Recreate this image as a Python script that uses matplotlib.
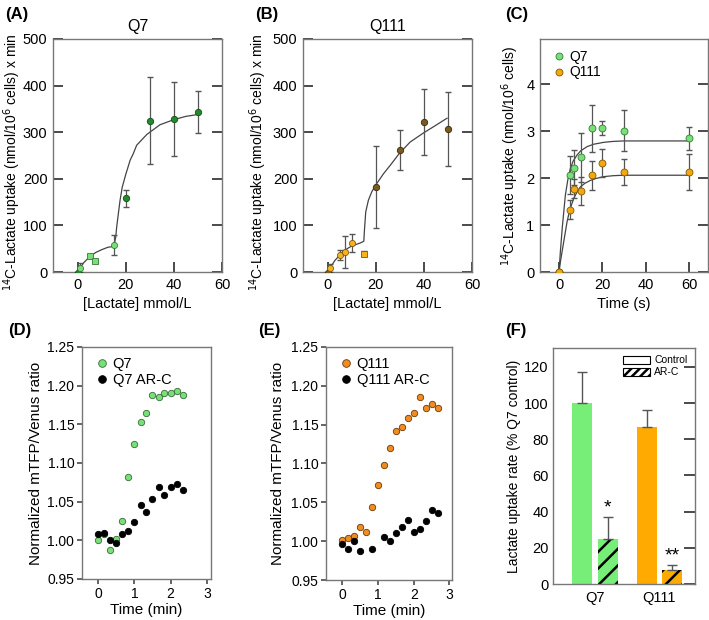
import matplotlib
matplotlib.use("Agg")
import matplotlib.pyplot as plt
from matplotlib.patches import Patch
import numpy as np

plt.rcParams['font.family'] = ['Liberation Sans', 'DejaVu Sans']
plt.rcParams['hatch.linewidth'] = 1.8
plt.rcParams['xtick.direction'] = 'in'
plt.rcParams['ytick.direction'] = 'in'
plt.rcParams['xtick.major.size'] = 7.5
plt.rcParams['ytick.major.size'] = 7.5
plt.rcParams['xtick.major.width'] = 1.4
plt.rcParams['ytick.major.width'] = 1.4
plt.rcParams['xtick.color'] = '#4a4a4a'
plt.rcParams['ytick.color'] = '#4a4a4a'
plt.rcParams['xtick.labelcolor'] = 'black'
plt.rcParams['ytick.labelcolor'] = 'black'
plt.rcParams['ytick.right'] = True
plt.rcParams['xtick.top'] = False

# ---------------- data ----------------
# Panel A (Q7 concentration curve)
A_light_x = [1, 15]
A_light_y = [9, 58]
A_light_e = [10, 21]
A_sq_x = [5, 7]
A_sq_y = [34, 24]
A_sq_e = [4, 4]
A_dark_x = [20, 30, 40, 50]
A_dark_y = [158, 325, 329, 344]
A_dark_e = [19, 93, 79, 45]
A_fit_x = [0, 1, 2.5, 5, 7.5, 10, 12.5, 15, 15.8, 16.2, 17, 17.6, 18.5, 20, 21.8, 23.1, 24.5, 28.7, 30, 34.2, 40, 45, 50]
A_fit_y = [0, 9, 20, 33, 42, 48, 53, 55, 75, 97, 130, 154, 182, 210, 240, 254, 272, 295, 300, 316, 327, 334, 338]

# Panel B (Q111 concentration curve)
B_light_x = [1, 5, 7, 10]
B_light_y = [9, 36, 43, 62]
B_light_e = [8, 11, 34, 20]
B_sq_x = [15]
B_sq_y = [39]
B_sq_e = [5]
B_dark_x = [20, 30, 40, 50]
B_dark_y = [182, 261, 322, 307]
B_dark_e = [88, 43, 70, 80]
B_fit_x = [0, 1, 3, 5, 6.5, 10, 13.4, 15, 15.3, 15.8, 16.9, 18.3, 20, 23.2, 26, 30, 34.3, 40, 44.7, 49.6]
B_fit_y = [0, 9, 25, 36, 45, 56, 62, 66, 93, 129, 154, 172, 187, 211, 229, 256, 279, 299, 314, 330]

# Panel C (time course)
C_t = [0, 5, 7, 10, 15, 20, 30, 60]
C_q7 = [0, 2.06, 2.22, 2.44, 3.06, 3.06, 3.01, 2.85]
C_q7_e = [0, 0.40, 0.37, 0.52, 0.50, 0.15, 0.44, 0.245]
C_q111 = [0, 1.33, 1.77, 1.73, 2.06, 2.32, 2.13, 2.13]
C_q111_e = [0, 0.20, 0.20, 0.30, 0.31, 0.30, 0.27, 0.38]
C_fit7_x = [0, 0.6, 1.5, 2.9, 4, 5.2, 6.5, 8.3, 10, 13, 16, 20.6, 25, 29.8, 60]
C_fit7_y = [0, 0.43, 0.95, 1.63, 1.95, 2.2, 2.36, 2.49, 2.58, 2.67, 2.72, 2.76, 2.78, 2.79, 2.79]
C_fit111_x = [0, 0.6, 2, 3.7, 5, 6.8, 8.3, 9.8, 12, 14.5, 17, 20.6, 25, 29.8, 60]
C_fit111_y = [0, 0.21, 0.6, 1.07, 1.33, 1.57, 1.7, 1.81, 1.89, 1.95, 1.99, 2.03, 2.05, 2.06, 2.06]

# Panel D
D_q7_t = [0, 0.17, 0.33, 0.5, 0.67, 0.83, 1.0, 1.17, 1.33, 1.5, 1.67, 1.83, 2.0, 2.17, 2.33]
D_q7 = [1.001, 1.008, 0.9875, 1.0017, 1.025, 1.082, 1.125, 1.153, 1.165, 1.188, 1.185, 1.191, 1.190, 1.193, 1.1875]
D_arc_t = [0, 0.17, 0.33, 0.5, 0.67, 0.83, 1.0, 1.17, 1.33, 1.5, 1.67, 1.83, 2.0, 2.17, 2.33]
D_arc = [1.0086, 1.0095, 1.001, 0.996, 1.008, 1.0125, 1.024, 1.046, 1.036, 1.053, 1.069, 1.058, 1.069, 1.073, 1.0655]

# Panel E
E_q111_t = [0, 0.17, 0.33, 0.5, 0.67, 0.83, 1.0, 1.17, 1.33, 1.5, 1.67, 1.83, 2.0, 2.17, 2.33, 2.5, 2.67]
E_q111 = [1.0014, 1.0036, 1.0066, 1.0177, 1.012, 1.044, 1.072, 1.0975, 1.1206, 1.1424, 1.1467, 1.159, 1.1656, 1.185, 1.172, 1.176, 1.172]
E_arc_t = [0, 0.17, 0.33, 0.5, 0.83, 1.17, 1.33, 1.5, 1.67, 1.83, 2.0, 2.17, 2.33, 2.5, 2.67]
E_arc = [0.9967, 0.990, 0.9996, 0.9877, 0.9894, 1.006, 0.9996, 1.010, 1.0186, 1.0267, 1.0113, 1.016, 1.0259, 1.040, 1.0357]

# Panel F
F_groups = ['Q7', 'Q111']
F_control = [100, 87]
F_control_e = [17, 9]
F_arc = [25, 8]
F_arc_e = [12, 2.5]
F_stars = ['*', '**']

# ---------------- figure ----------------
W, H = 709, 620
fig = plt.figure(figsize=(W / 100, H / 100), dpi=100)

def ax_at(l, t, r, b):
    return fig.add_axes([l / W, 1 - b / H, (r - l) / W, (b - t) / H])

SPINE = '#777777'
TICK = '#4a4a4a'
ERR = '#555555'
LG = '#77E077'
DG = '#1E8C2A'
YEL = '#F7B21E'
BRN = '#7A5A1E'
ORG = '#F5A70E'
ORG2 = '#F28C1E'

def style_spines(ax):
    for s in ax.spines.values():
        s.set_color(SPINE)
        s.set_linewidth(1.0)

def conc_axes(ax):
    style_spines(ax)
    ax.tick_params(axis='both', which='major', labelsize=10.5, pad=4)

ylab14 = r'$^{14}$C-Lactate uptake (nmol/10$^{6}$ cells) x min'

# Panel A
axA = ax_at(53, 39, 222, 272)
axA.plot(A_fit_x, A_fit_y, color='#444444', lw=0.9, zorder=2)
axA.errorbar(A_light_x, A_light_y, yerr=A_light_e, fmt='none', ecolor=ERR, elinewidth=0.9, capsize=2.5, zorder=3)
axA.errorbar(A_sq_x, A_sq_y, yerr=A_sq_e, fmt='none', ecolor=ERR, elinewidth=0.9, capsize=2.5, zorder=3)
axA.errorbar(A_dark_x, A_dark_y, yerr=A_dark_e, fmt='none', ecolor=ERR, elinewidth=0.9, capsize=2.5, zorder=3)
axA.plot([0], [0], marker='D', ms=3.5, color=DG, mec='#333333', mew=0.6, ls='none', zorder=4)
axA.plot(A_light_x, A_light_y, 'o', ms=4.4, color=LG, mec='#3a7a3a', mew=0.6, zorder=4)
axA.plot(A_sq_x, A_sq_y, 's', ms=4.4, color=LG, mec='#3a7a3a', mew=0.6, zorder=4)
axA.plot(A_dark_x, A_dark_y, 'o', ms=4.6, color=DG, mec='#1a4a1a', mew=0.6, zorder=4)
axA.set_xlim(-10.3, 60)
axA.set_ylim(0, 500)
axA.set_xticks([0, 20, 40, 60])
axA.set_yticks([0, 100, 200, 300, 400, 500])
conc_axes(axA)
axA.set_title('Q7', fontsize=11.5, pad=6)
axA.set_xlabel('[Lactate] mmol/L', fontsize=10.5, labelpad=4)
axA.set_ylabel(ylab14, fontsize=10)
axA.yaxis.set_label_coords(-0.178, 0.47)

# Panel B
axB = ax_at(303, 39, 472, 272)
axB.plot(B_fit_x, B_fit_y, color='#444444', lw=0.9, zorder=2)
axB.errorbar(B_light_x, B_light_y, yerr=B_light_e, fmt='none', ecolor=ERR, elinewidth=0.9, capsize=2.5, zorder=3)
axB.errorbar(B_sq_x, B_sq_y, yerr=B_sq_e, fmt='none', ecolor=ERR, elinewidth=0.9, capsize=2.5, zorder=3)
axB.errorbar(B_dark_x, B_dark_y, yerr=B_dark_e, fmt='none', ecolor=ERR, elinewidth=0.9, capsize=2.5, zorder=3)
axB.plot([0], [0], marker='D', ms=3.5, color=BRN, mec='#333333', mew=0.6, ls='none', zorder=4)
axB.plot(B_light_x, B_light_y, 'o', ms=4.4, color=YEL, mec='#7a5a10', mew=0.6, zorder=4)
axB.plot(B_sq_x, B_sq_y, 's', ms=4.4, color=YEL, mec='#7a5a10', mew=0.6, zorder=4)
axB.plot(B_dark_x, B_dark_y, 'o', ms=4.6, color=BRN, mec='#3a2a0a', mew=0.6, zorder=4)
axB.set_xlim(-10.3, 60)
axB.set_ylim(0, 500)
axB.set_xticks([0, 20, 40, 60])
axB.set_yticks([0, 100, 200, 300, 400, 500])
conc_axes(axB)
axB.set_title('Q111', fontsize=11.5, pad=6)
axB.set_xlabel('[Lactate] mmol/L', fontsize=10.5, labelpad=4)
axB.set_ylabel(ylab14, fontsize=10)
axB.yaxis.set_label_coords(-0.2, 0.47)

# Panel C
axC = ax_at(540, 39, 708, 272)
axC.plot(C_fit7_x, C_fit7_y, color='#444444', lw=0.9, zorder=2)
axC.plot(C_fit111_x, C_fit111_y, color='#444444', lw=0.9, zorder=2)
axC.errorbar(C_t, C_q7, yerr=C_q7_e, fmt='none', ecolor=ERR, elinewidth=0.9, capsize=2.5, zorder=3)
axC.errorbar(C_t, C_q111, yerr=C_q111_e, fmt='none', ecolor=ERR, elinewidth=0.9, capsize=2.5, zorder=3)
axC.plot(C_t, C_q7, 'o', ms=5, color=LG, mec='#3a7a3a', mew=0.6, zorder=4, label='Q7')
axC.plot(C_t, C_q111, 'o', ms=5, color=ORG, mec='#7a5a10', mew=0.6, zorder=5, label='Q111')
axC.set_xlim(-8.8, 68.8)
axC.set_ylim(0, 4.96)
axC.set_xticks([0, 20, 40, 60])
axC.set_yticks([0, 1, 2, 3, 4])
conc_axes(axC)
axC.set_xlabel('Time (s)', fontsize=10.5, labelpad=4)
axC.set_ylabel(r'$^{14}$C-Lactate uptake (nmol/10$^{6}$ cells)', fontsize=10)
axC.yaxis.set_label_coords(-0.113, 0.5)
axC.legend(loc='upper left', frameon=False, fontsize=10, handletextpad=0.1, borderaxespad=0.3,
           labelspacing=0.1, handlelength=1.2, borderpad=0.5)

# Panel D / E
def ratio_axes(ax, xlab):
    style_spines(ax)
    ax.set_ylim(0.95, 1.25)
    ax.set_yticks([0.95, 1.00, 1.05, 1.10, 1.15, 1.20, 1.25])
    ax.set_yticklabels(['0.95', '1.00', '1.05', '1.10', '1.15', '1.20', '1.25'])
    ax.set_xticks([0, 1, 2, 3])
    ax.tick_params(axis='both', which='major', direction='out', length=3.5, width=1.2,
                   labelsize=10, pad=2, left=True, right=False, bottom=True, top=False)
    ax.set_xlabel('Time (min)', fontsize=11, labelpad=2)
    ax.set_ylabel('Normalized mTFP/Venus ratio', fontsize=11)
    ax.yaxis.set_label_coords(xlab, 0.5)

axD = ax_at(82, 347, 211, 579)
axD.plot(D_q7_t, D_q7, 'o', ms=4.6, color=LG, mec='#3a6a3a', mew=0.6, ls='none', label='Q7', zorder=3)
axD.plot(D_arc_t, D_arc, 'o', ms=4.6, color='black', mec='black', mew=0.6, ls='none', label='Q7 AR-C', zorder=4)
axD.set_xlim(-0.44, 3.11)
ratio_axes(axD, -0.302)
axD.legend(loc='upper left', frameon=False, fontsize=10.5, handletextpad=0.1, borderaxespad=0.3,
           labelspacing=0.15, handlelength=1.3, markerscale=1.2)

axE = ax_at(326, 347, 452, 580)
axE.plot(E_q111_t, E_q111, 'o', ms=4.6, color=ORG2, mec='#6a3a0a', mew=0.6, ls='none', label='Q111', zorder=3)
axE.plot(E_arc_t, E_arc, 'o', ms=4.6, color='black', mec='black', mew=0.6, ls='none', label='Q111 AR-C', zorder=4)
axE.set_xlim(-0.45, 3.07)
ratio_axes(axE, -0.325)
axE.legend(loc='upper left', frameon=False, fontsize=10.5, handletextpad=0.1, borderaxespad=0.3,
           labelspacing=0.15, handlelength=1.3, markerscale=1.2)

# Panel F
axF = ax_at(553, 348, 695, 584)
style_spines(axF)
xg = np.arange(len(F_groups))
bw = 0.31
off = 0.195
ctrl_colors = ['#77EE77', '#FFAA00']
axF.bar(xg - off, F_control, width=bw, color=ctrl_colors, edgecolor='none', zorder=2)
axF.bar(xg + off, F_arc, width=bw, color=ctrl_colors, edgecolor='black', linewidth=0, hatch='//', zorder=2)
axF.errorbar(xg - off, F_control, yerr=[[0, 0], F_control_e], fmt='none', ecolor=ERR, elinewidth=1.0, capsize=3.5, zorder=3)
axF.errorbar(xg + off, F_arc, yerr=[[0, 0], F_arc_e], fmt='none', ecolor=ERR, elinewidth=1.0, capsize=3.5, zorder=3)
for i in range(len(F_groups)):
    axF.text(xg[i] + off, F_arc[i] + F_arc_e[i] + 0.5, F_stars[i], ha='center', va='bottom', fontsize=14)
axF.set_xlim(-0.653, 1.555)
axF.set_ylim(0, 130.5)
axF.set_xticks(xg)
axF.set_xticklabels(F_groups)
axF.set_yticks([0, 20, 40, 60, 80, 100, 120])
axF.tick_params(axis='y', which='major', length=8, labelsize=10.5, pad=3,
                left=False, right=True, labelleft=True, labelright=False)
axF.tick_params(axis='x', length=0, labelsize=10.5, pad=5)
axF.set_ylabel('Lactate uptake rate (% Q7 control)', fontsize=10)
axF.yaxis.set_label_coords(-0.225, 0.5)
handles = [Patch(facecolor='white', edgecolor='black', linewidth=0.8, label='Control'),
           Patch(facecolor='white', edgecolor='black', linewidth=0.8, hatch='////', label='AR-C')]
axF.legend(handles=handles, loc='upper right', frameon=False, fontsize=7.5, handlelength=2.6,
           handleheight=0.8, handletextpad=0.4, labelspacing=0.2, borderaxespad=0.3)

# panel letters
for lbl, x, y in [('(A)', 5, 14), ('(B)', 255, 14), ('(C)', 505, 14),
                  ('(D)', 8, 330), ('(E)', 258, 330), ('(F)', 505, 330)]:
    fig.text(x / W, 1 - y / H, lbl, fontsize=12, fontweight='bold', va='center', ha='left')

fig.savefig('out.png', dpi=100)
